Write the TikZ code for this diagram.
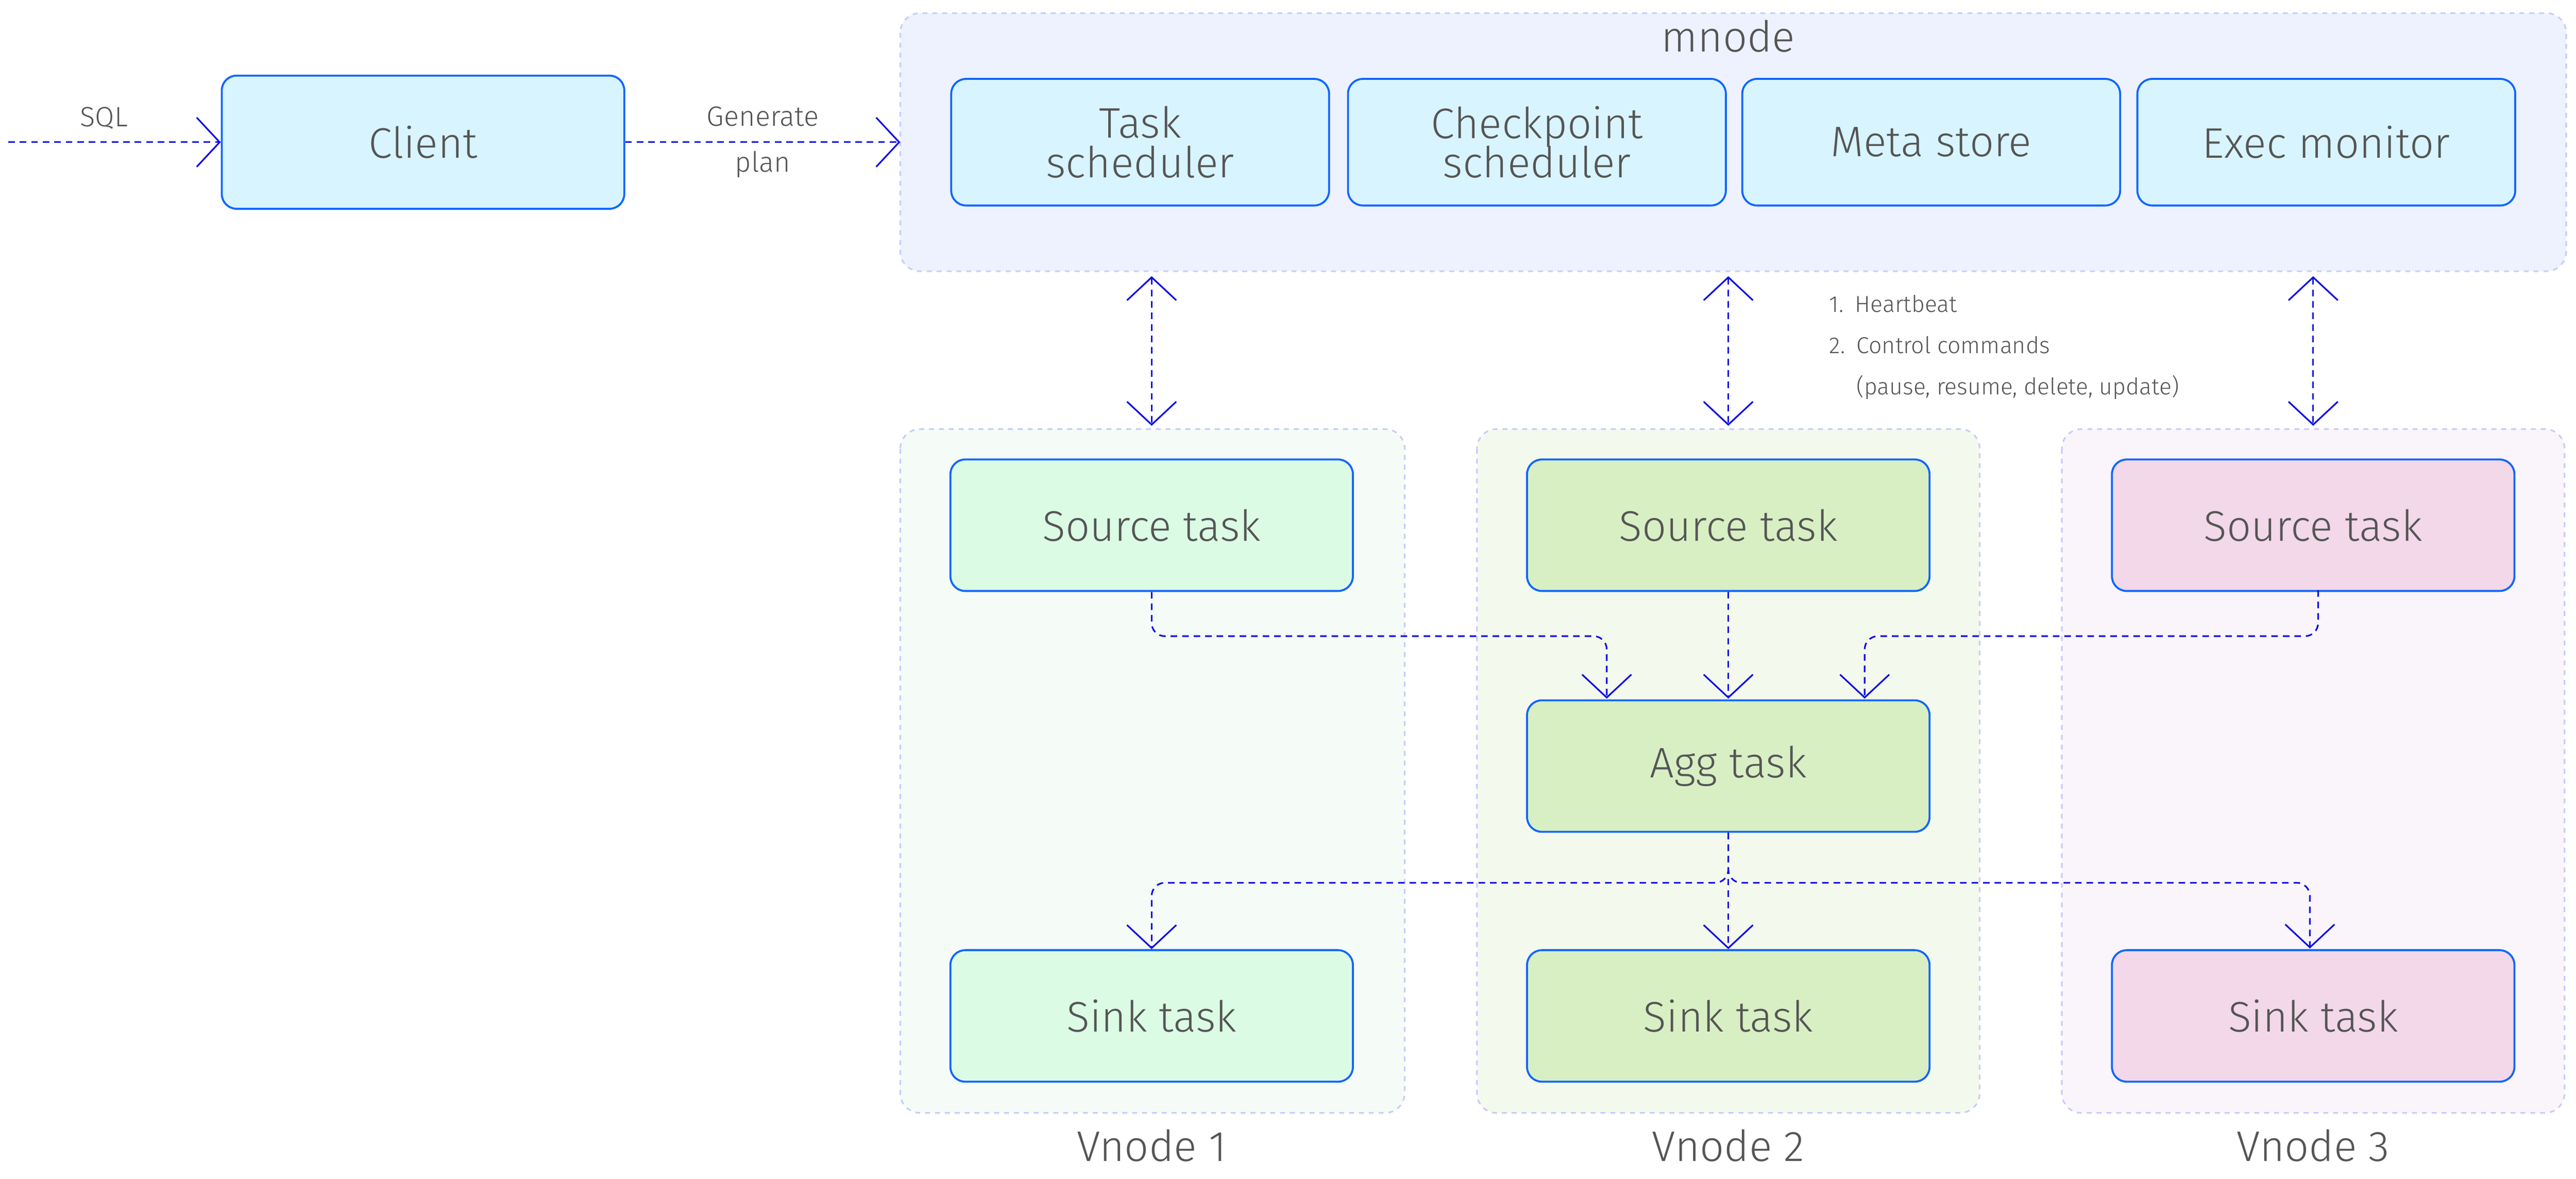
\documentclass[tikz,border=0pt]{standalone}
\usepackage{fontspec}
\setmainfont{Fira Sans Light}
\usetikzlibrary{arrows.meta}
\definecolor{bd}{HTML}{1166FF}
\definecolor{ar}{HTML}{1010E6}
\definecolor{tx}{HTML}{555555}
\definecolor{cont}{HTML}{C8CCFA}
\begin{document}
\begin{tikzpicture}[x=1pt,y=-1pt,
 box/.style={draw=bd,line width=1.2pt,rounded corners=9pt,text=tx,font=\fontsize{26}{28}\selectfont,align=center,inner sep=0pt},
 grp/.style={draw=cont,dashed,line width=1pt,rounded corners=12pt},
 conn/.style={draw=ar,line width=1pt,dash pattern=on 4pt off 3pt,-{Straight Barb[length=14pt,width=30pt]}},
 dbl/.style={conn,{Straight Barb[length=14pt,width=30pt]}-{Straight Barb[length=14pt,width=30pt]}},
 lab/.style={text=tx,font=\fontsize{17}{22}\selectfont,align=center}]
\useasboundingbox (0,0) rectangle (1568,717);
% containers
\filldraw[grp,fill={rgb,255:red,237;green,242;blue,254}] (548,8) rectangle (1562,165);
\node[text=tx,font=\fontsize{26}{28}\selectfont] (mlab) at (1052,22) {mnode};
\filldraw[grp,fill={rgb,255:red,245;green,251;blue,246}] (548,261) rectangle (855,677);
\filldraw[grp,fill={rgb,255:red,244;green,249;blue,238}] (899,261) rectangle (1205,677);
\filldraw[grp,fill={rgb,255:red,250;green,245;blue,250}] (1255,261) rectangle (1561,677);
\node[text=tx,font=\fontsize{26}{28}\selectfont] (v1) at (701,697) {Vnode 1};
\node[text=tx,font=\fontsize{26}{28}\selectfont] (v2) at (1052,697) {Vnode 2};
\node[text=tx,font=\fontsize{26}{28}\selectfont] (v3) at (1408,697) {Vnode 3};
% mnode boxes
\tikzset{mb/.style={box,fill={rgb,255:red,216;green,244;blue,254},minimum width=230pt,minimum height=77pt}}
\node[box,fill={rgb,255:red,216;green,244;blue,254},minimum width=245pt,minimum height=81pt] (client) at (257.5,86.5) {Client};
\node[mb] (ts) at (694,86.5) {Task\\[-4pt]scheduler};
\node[mb] (cs) at (935.5,86.5) {Checkpoint\\[-4pt]scheduler};
\node[mb] (ms) at (1175.5,86.5) {Meta store};
\node[mb] (em) at (1416,86.5) {Exec monitor};
% tasks
\tikzset{tb/.style={box,minimum width=245pt,minimum height=80pt}}
\node[tb,fill={rgb,255:red,219;green,251;blue,229}] (s1) at (701,319.5) {Source task};
\node[tb,fill={rgb,255:red,216;green,239;blue,196}] (s2) at (1052,319.5) {Source task};
\node[tb,fill={rgb,255:red,242;green,216;blue,233}] (s3) at (1408,319.5) {Source task};
\node[tb,fill={rgb,255:red,216;green,239;blue,196}] (agg) at (1052,466) {Agg task};
\node[tb,fill={rgb,255:red,219;green,251;blue,229}] (k1) at (701,618) {Sink task};
\node[tb,fill={rgb,255:red,216;green,239;blue,196}] (k2) at (1052,618) {Sink task};
\node[tb,fill={rgb,255:red,242;green,216;blue,233}] (k3) at (1408,618) {Sink task};
% coordinates
\coordinate (sql) at (5,86.5);
\coordinate (mn) at (548,86.5);
\coordinate (t1) at (701,168); \coordinate (b1) at (701,259);
\coordinate (t2) at (1052,168); \coordinate (b2) at (1052,259);
\coordinate (t3) at (1408,168); \coordinate (b3) at (1408,259);
\coordinate (a1) at (978,425); \coordinate (a2) at (1052,425); \coordinate (a3) at (1135,425);
% connectors
\draw[conn] (sql) -- (client.west) node[lab,pos=0.45,above=4pt] {SQL};
\draw[conn] (client.east) -- (mn) node[lab,midway] {Generate\\[6pt]plan};
\draw[dbl] (t1) -- (b1);
\draw[dbl] (t2) -- (b2);
\draw[dbl] (t3) -- (b3);
\draw[conn,rounded corners=8pt] (s1.south) |- (978,387) -- (a1);
\draw[conn] (s2.south) -- (a2);
\draw[conn,rounded corners=8pt] (1411,359) |- (1135,387) -- (a3);
\draw[conn,rounded corners=8pt] (agg.south) |- (701,537) -- (k1.north);
\draw[conn] (agg.south) -- (k2.north);
\draw[conn,rounded corners=8pt] (agg.south) |- (1406,537) -- (1406,577);
\node[text=tx,font=\fontsize{14}{25}\selectfont,align=left,anchor=north west] (list) at (1110,176)
 {1.\enspace Heartbeat\\2.\enspace Control commands\\\phantom{2.\enspace}(pause, resume, delete, update)};
\end{tikzpicture}
\end{document}
